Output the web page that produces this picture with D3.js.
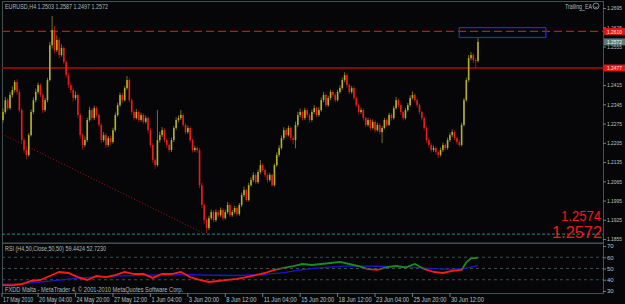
<!DOCTYPE html>
<html>

<head>
  <meta charset="UTF-8">
  <title>EURUSD,H4</title>
  <style>
    html, body { margin: 0; padding: 0; background: #060608; }
    svg { display: block; }
    text { font-family: "Liberation Sans", Arial, sans-serif; }
  </style>
</head>

<body>
  <div id="chart"></div>
  <script src="https://d3js.org/d3.v7.min.js"></script>
  <script>

    /// data (EURUSD H4, one entry per bar, first bar = 17 May 2010 16:00)

    var opens = [1.2288,1.2317,1.2360,1.2331,1.2379,1.2397,1.2426,1.2390,1.2324,1.2215,
      1.2179,1.2161,1.2233,1.2317,1.2360,1.2390,1.2415,1.2379,1.2324,1.2360,
      1.2433,1.2560,1.2615,1.2542,1.2579,1.2524,1.2550,1.2499,1.2451,1.2415,
      1.2397,1.2368,1.2379,1.2306,1.2233,1.2197,1.2215,1.2288,1.2324,1.2295,
      1.2331,1.2306,1.2270,1.2215,1.2233,1.2197,1.2222,1.2208,1.2251,1.2306,
      1.2342,1.2379,1.2360,1.2404,1.2433,1.2360,1.2317,1.2295,1.2317,1.2288,
      1.2306,1.2281,1.2295,1.2251,1.2197,1.2142,1.2124,1.2215,1.2233,1.2251,
      1.2215,1.2197,1.2179,1.2215,1.2259,1.2288,1.2295,1.2306,1.2270,1.2244,
      1.2259,1.2215,1.2179,1.2186,1.2179,1.2051,1.1979,1.1924,1.1895,1.1931,
      1.1953,1.1924,1.1953,1.1942,1.1961,1.1931,1.1953,1.1979,1.1942,1.1953,
      1.1968,1.1946,1.1979,1.2015,1.2033,1.1997,1.2051,1.2070,1.2088,1.2062,
      1.2099,1.2124,1.2106,1.2088,1.2070,1.2088,1.2051,1.2124,1.2161,1.2186,
      1.2222,1.2251,1.2233,1.2259,1.2222,1.2215,1.2270,1.2306,1.2317,1.2295,
      1.2324,1.2306,1.2288,1.2317,1.2331,1.2306,1.2324,1.2360,1.2379,1.2342,
      1.2368,1.2390,1.2379,1.2360,1.2390,1.2404,1.2433,1.2451,1.2415,1.2390,
      1.2404,1.2368,1.2342,1.2317,1.2324,1.2295,1.2270,1.2288,1.2259,1.2281,
      1.2251,1.2270,1.2244,1.2259,1.2288,1.2270,1.2306,1.2295,1.2331,1.2360,
      1.2342,1.2317,1.2295,1.2324,1.2342,1.2368,1.2379,1.2360,1.2342,1.2317,
      1.2295,1.2259,1.2215,1.2197,1.2179,1.2186,1.2171,1.2161,1.2179,1.2197,
      1.2186,1.2215,1.2233,1.2244,1.2222,1.2208,1.2197,1.2270,1.2360,1.2433,
      1.2513,1.2524,1.2506,1.2503];

    var highs = [1.2330,1.2372,1.2368,1.2390,1.2410,1.2433,1.2436,1.2398,1.2331,1.2222,
      1.2190,1.2240,1.2326,1.2370,1.2402,1.2424,1.2422,1.2386,1.2368,1.2441,
      1.2572,1.2666,1.2630,1.2596,1.2588,1.2563,1.2556,1.2506,1.2460,1.2426,
      1.2405,1.2392,1.2385,1.2314,1.2240,1.2228,1.2296,1.2336,1.2330,1.2340,
      1.2338,1.2312,1.2278,1.2244,1.2240,1.2230,1.2231,1.2260,1.2315,1.2351,
      1.2388,1.2386,1.2412,1.2448,1.2440,1.2366,1.2325,1.2328,1.2322,1.2315,
      1.2312,1.2304,1.2300,1.2258,1.2204,1.2150,1.2324,1.2245,1.2262,1.2258,
      1.2222,1.2204,1.2224,1.2266,1.2298,1.2305,1.2324,1.2312,1.2276,1.2268,
      1.2264,1.2220,1.2195,1.2192,1.2186,1.2060,1.1986,1.1932,1.1940,1.1962,
      1.1960,1.1963,1.1960,1.1970,1.1968,1.1962,1.1990,1.1985,1.1961,1.1976,
      1.1974,1.1986,1.2024,1.2046,1.2038,1.2060,1.2080,1.2098,1.2094,1.2108,
      1.2142,1.2130,1.2112,1.2094,1.2096,1.2092,1.2130,1.2170,1.2196,1.2232,
      1.2262,1.2258,1.2268,1.2264,1.2230,1.2282,1.2318,1.2330,1.2322,1.2333,
      1.2330,1.2312,1.2326,1.2342,1.2336,1.2334,1.2370,1.2390,1.2384,1.2376,
      1.2398,1.2396,1.2385,1.2398,1.2414,1.2442,1.2462,1.2458,1.2420,1.2412,
      1.2410,1.2374,1.2348,1.2333,1.2330,1.2300,1.2296,1.2294,1.2290,1.2286,
      1.2278,1.2276,1.2266,1.2296,1.2294,1.2314,1.2312,1.2340,1.2372,1.2366,
      1.2348,1.2322,1.2332,1.2350,1.2378,1.2392,1.2385,1.2366,1.2348,1.2322,
      1.2300,1.2264,1.2222,1.2204,1.2195,1.2192,1.2177,1.2188,1.2206,1.2203,
      1.2224,1.2242,1.2254,1.2250,1.2228,1.2214,1.2278,1.2368,1.2442,1.2524,
      1.2535,1.2531,1.2512,1.2587];

    var lows = [1.2279,1.2310,1.2322,1.2325,1.2370,1.2388,1.2380,1.2315,1.2205,1.2168,
      1.2145,1.2155,1.2228,1.2310,1.2352,1.2383,1.2370,1.2312,1.2318,1.2352,
      1.2428,1.2548,1.2530,1.2535,1.2512,1.2518,1.2490,1.2440,1.2404,1.2386,
      1.2355,1.2360,1.2295,1.2220,1.2180,1.2190,1.2208,1.2281,1.2286,1.2288,
      1.2298,1.2262,1.2204,1.2208,1.2186,1.2190,1.2196,1.2202,1.2245,1.2300,
      1.2335,1.2350,1.2355,1.2398,1.2352,1.2308,1.2286,1.2290,1.2280,1.2282,
      1.2274,1.2275,1.2240,1.2188,1.2132,1.2110,1.2118,1.2206,1.2226,1.2206,
      1.2188,1.2170,1.2172,1.2208,1.2252,1.2280,1.2288,1.2262,1.2236,1.2238,
      1.2206,1.2170,1.2172,1.2168,1.2040,1.1968,1.1910,1.1877,1.1888,1.1925,
      1.1916,1.1918,1.1934,1.1936,1.1922,1.1926,1.1946,1.1935,1.1936,1.1947,
      1.1938,1.1940,1.1972,1.2008,1.1990,1.1992,1.2045,1.2062,1.2055,1.2056,
      1.2092,1.2098,1.2080,1.2060,1.2064,1.2045,1.2046,1.2118,1.2154,1.2180,
      1.2215,1.2225,1.2228,1.2214,1.2200,1.2185,1.2262,1.2298,1.2286,1.2288,
      1.2298,1.2278,1.2282,1.2310,1.2298,1.2300,1.2318,1.2352,1.2335,1.2336,
      1.2360,1.2372,1.2352,1.2355,1.2384,1.2398,1.2425,1.2406,1.2382,1.2384,
      1.2360,1.2335,1.2308,1.2310,1.2286,1.2262,1.2264,1.2250,1.2254,1.2242,
      1.2246,1.2236,1.2204,1.2254,1.2262,1.2266,1.2286,1.2290,1.2326,1.2334,
      1.2308,1.2286,1.2290,1.2318,1.2336,1.2362,1.2352,1.2334,1.2308,1.2286,
      1.2250,1.2205,1.2188,1.2170,1.2172,1.2162,1.2150,1.2155,1.2172,1.2178,
      1.2180,1.2208,1.2226,1.2214,1.2200,1.2190,1.2192,1.2265,1.2355,1.2426,
      1.2505,1.2495,1.2477,1.2497];

    var closes = [1.2317,1.2360,1.2331,1.2379,1.2397,1.2426,1.2390,1.2324,1.2215,1.2179,
      1.2161,1.2233,1.2317,1.2360,1.2390,1.2415,1.2379,1.2324,1.2360,1.2433,
      1.2560,1.2615,1.2542,1.2579,1.2524,1.2550,1.2499,1.2451,1.2415,1.2397,
      1.2368,1.2379,1.2306,1.2233,1.2197,1.2215,1.2288,1.2324,1.2295,1.2331,
      1.2306,1.2270,1.2215,1.2233,1.2197,1.2222,1.2208,1.2251,1.2306,1.2342,
      1.2379,1.2360,1.2404,1.2433,1.2360,1.2317,1.2295,1.2317,1.2288,1.2306,
      1.2281,1.2295,1.2251,1.2197,1.2142,1.2124,1.2215,1.2233,1.2251,1.2215,
      1.2197,1.2179,1.2215,1.2259,1.2288,1.2295,1.2306,1.2270,1.2244,1.2259,
      1.2215,1.2179,1.2186,1.2179,1.2051,1.1979,1.1924,1.1895,1.1931,1.1953,
      1.1924,1.1953,1.1942,1.1961,1.1931,1.1953,1.1979,1.1942,1.1953,1.1968,
      1.1946,1.1979,1.2015,1.2033,1.1997,1.2051,1.2070,1.2088,1.2062,1.2099,
      1.2124,1.2106,1.2088,1.2070,1.2088,1.2051,1.2124,1.2161,1.2186,1.2222,
      1.2251,1.2233,1.2259,1.2222,1.2215,1.2270,1.2306,1.2317,1.2295,1.2324,
      1.2306,1.2288,1.2317,1.2331,1.2306,1.2324,1.2360,1.2379,1.2342,1.2368,
      1.2390,1.2379,1.2360,1.2390,1.2404,1.2433,1.2451,1.2415,1.2390,1.2404,
      1.2368,1.2342,1.2317,1.2324,1.2295,1.2270,1.2288,1.2259,1.2281,1.2251,
      1.2270,1.2244,1.2259,1.2288,1.2270,1.2306,1.2295,1.2331,1.2360,1.2342,
      1.2317,1.2295,1.2324,1.2342,1.2368,1.2379,1.2360,1.2342,1.2317,1.2295,
      1.2259,1.2215,1.2197,1.2179,1.2186,1.2171,1.2161,1.2179,1.2197,1.2186,
      1.2215,1.2233,1.2244,1.2222,1.2208,1.2197,1.2270,1.2360,1.2433,1.2513,
      1.2524,1.2506,1.2503,1.2572];

    // RSI and its moving average, sampled at these bars
    var rsiBars = [0,4,8,12,16,20,24,28,32,36,40,44,48,52,56,60,64,68,72,76,80,84,88,92,96,
      100,104,108,112,116,120,124,128,132,136,140,144,148,152,156,160,164,168,172,176,180,
      184,188,192,196,198,200,203];
    var rsiValues = [35.3,35.0,36.2,38.9,39.8,43.3,46.9,46.0,42.4,39.8,43.3,42.4,44.2,46.9,45.1,
      45.1,41.6,45.1,45.1,46.9,42.4,39.8,38.0,38.9,39.8,40.7,42.4,44.2,46.0,48.7,50.6,52.2,
      54.0,53.1,54.0,54.9,55.8,54.0,52.2,49.4,48.7,51.3,52.2,50.9,54.0,49.6,46.9,46.0,47.8,
      48.7,55.5,59.0,59.44];
    var maBars = [0,10,20,30,40,50,60,70,80,90,100,110,120,128,136,148,160,172,184,192,198,203];
    var maValues = [36.0,36.8,38.8,41.0,42.6,43.4,44.0,44.3,44.5,44.0,43.8,44.6,46.4,49.0,50.8,
      52.3,52.0,51.4,49.8,49.3,50.4,52.72];

    // 1.2485 sits under the 1.2477 tag, so it is not shown
    var priceTicks = [1.2695,1.2625,1.2555,1.2415,1.2345,1.2275,1.2205,1.2135,1.2065,1.1995,1.1925,1.1855];
    var rsiTicks = [70, 60, 50, 40, 30];
    var rsiGrid = [60, 50, 40];
    var timeLabels = ["17 May 2010","20 May 04:00","24 May 20:00","27 May 12:00","1 Jun 04:00","3 Jun 20:00",
      "8 Jun 12:00","11 Jun 04:00","15 Jun 20:00","18 Jun 12:00","23 Jun 04:00","25 Jun 20:00","30 Jun 12:00"];
    var timeBars = [0,15,31,47,63,79,95,111,127,143,159,175,191];

    // chart objects
    var resistLevel = 1.2610, supportLevel = 1.2477, bottomLevel = 1.1873, bidPrice = 1.2572;
    var trendStart = {bar: -0.4, price: 1.2237}, trendEnd = {bar: 85.5, price: 1.1877};
    var boxObj = {bar0: 195, bar1: 232, p0: 1.2624, p1: 1.2588};
    var bigLabels = ["1.2574", "1.2572"];

    /// layout

    var W = 625, H = 304;
    var left = 2, right = 603;
    var mainTop = 2, mainBottom = 243, rsiBottom = 293;

    var svg = d3.select("#chart").append("svg").attr("width", W).attr("height", H);
    svg.append("rect").attr("width", W).attr("height", H).attr("fill", "#060608");

    var x = d3.scaleLinear().domain([0, 203]).range([3, 478]);
    var y = d3.scaleLinear().domain([1.1848, 1.2717]).range([241, 2]);
    var ry = d3.scaleLinear().domain([30, 70]).range([291, 246]);

    var defs = svg.append("defs");
    defs.append("clipPath").attr("id", "mainClip").append("rect")
      .attr("x", left).attr("y", mainTop).attr("width", right - left).attr("height", mainBottom - mainTop);
    defs.append("clipPath").attr("id", "above").append("rect")
      .attr("x", left).attr("y", mainBottom).attr("width", right - left).attr("height", ry(50) - mainBottom);
    defs.append("clipPath").attr("id", "below").append("rect")
      .attr("x", left).attr("y", ry(50)).attr("width", right - left).attr("height", rsiBottom - ry(50));

    // frames
    var frame = "#3e5252";
    svg.append("rect").attr("x", left + 0.5).attr("y", mainTop - 0.5)
      .attr("width", right - left).attr("height", mainBottom - mainTop + 0.5)
      .attr("fill", "none").attr("stroke", frame);
    svg.append("rect").attr("x", left + 0.5).attr("y", mainBottom + 0.5)
      .attr("width", right - left).attr("height", rsiBottom - mainBottom)
      .attr("fill", "none").attr("stroke", frame);

    var main = svg.append("g").attr("clip-path", "url(#mainClip)");

    // horizontal lines
    main.append("line").attr("x1", left).attr("x2", right)
      .attr("y1", y(bottomLevel)).attr("y2", y(bottomLevel))
      .attr("stroke", "#1f8c8c").attr("stroke-dasharray", "3,2");
    main.append("line").attr("x1", left).attr("x2", right)
      .attr("y1", y(resistLevel)).attr("y2", y(resistLevel))
      .attr("stroke", "#c81414").attr("stroke-width", 1.3).attr("stroke-dasharray", "8,4");
    main.append("line").attr("x1", left).attr("x2", right)
      .attr("y1", y(supportLevel)).attr("y2", y(supportLevel))
      .attr("stroke", "#820a0a").attr("stroke-width", 2);

    // trend line
    main.append("line")
      .attr("x1", x(trendStart.bar)).attr("y1", y(trendStart.price))
      .attr("x2", x(trendEnd.bar)).attr("y2", y(trendEnd.price))
      .attr("stroke", "#b01010").attr("stroke-dasharray", "1,2");

    // candles
    var bars = main.append("g").selectAll("g")
      .data(closes.map(function(c, i) { return {i: i, o: opens[i], h: highs[i], l: lows[i], c: c}; }))
      .enter().append("g");

    bars.append("line")
      .attr("x1", function(d) { return x(d.i); })
      .attr("x2", function(d) { return x(d.i); })
      .attr("y1", function(d) { return y(d.h); })
      .attr("y2", function(d) { return y(d.l); })
      .attr("stroke", function(d) { return d.c >= d.o ? "#7f7f1e" : "#a01616"; })
      .attr("stroke-width", 0.9);

    bars.append("rect")
      .attr("x", function(d) { return x(d.i) - 0.8; })
      .attr("width", 1.6)
      .attr("y", function(d) { return y(Math.max(d.o, d.c)); })
      .attr("height", function(d) { return Math.max(1, Math.abs(y(d.o) - y(d.c))); })
      .attr("fill", function(d) { return d.c >= d.o ? "#b0b02a" : "#ec1c1c"; });

    // blue rectangle object
    main.append("rect")
      .attr("x", x(boxObj.bar0)).attr("y", y(boxObj.p0))
      .attr("width", x(boxObj.bar1) - x(boxObj.bar0)).attr("height", y(boxObj.p1) - y(boxObj.p0))
      .attr("fill", "none").attr("stroke", "#2626e0").attr("stroke-width", 1.2);

    // header texts
    svg.append("text").attr("x", 5).attr("y", 8.5)
      .attr("font-size", 7).attr("fill", "#a9baba")
      .attr("textLength", 103).attr("lengthAdjust", "spacingAndGlyphs")
      .text("EURUSD,H4  1.2503 1.2587 1.2497 1.2572");

    svg.append("text").attr("x", 565).attr("y", 9)
      .attr("font-size", 7).attr("fill", "#a9baba")
      .attr("textLength", 27).attr("lengthAdjust", "spacingAndGlyphs")
      .text("Trailing_EA");
    var smile = svg.append("g").attr("transform", "translate(596,6)")
      .attr("fill", "none").attr("stroke", "#a9baba").attr("stroke-width", 0.7);
    smile.append("circle").attr("r", 3);
    smile.append("path").attr("d", "M-1.5,0.8 Q0,2.2 1.5,0.8");

    // big red price texts
    svg.append("text").attr("x", 601).attr("y", 221).attr("text-anchor", "end")
      .attr("font-size", 14.5).attr("fill", "#f01818")
      .attr("textLength", 40).attr("lengthAdjust", "spacingAndGlyphs")
      .text(bigLabels[0]);
    svg.append("text").attr("x", 602).attr("y", 238).attr("text-anchor", "end")
      .attr("font-size", 17).attr("fill", "#f01818")
      .attr("textLength", 50).attr("lengthAdjust", "spacingAndGlyphs")
      .text(bigLabels[1]);

    // price axis
    var priceAxis = svg.append("g").attr("transform", "translate(" + right + ",0)")
      .call(d3.axisRight(y).tickValues(priceTicks).tickSize(3).tickPadding(1)
        .tickFormat(d3.format(".4f")));
    priceAxis.select(".domain").remove();
    priceAxis.selectAll("line").attr("stroke", "#6d8080");
    priceAxis.selectAll("text").attr("fill", "#b8c4c4").attr("font-size", 6)
      .attr("font-family", "Liberation Sans, Arial, sans-serif")
      .attr("textLength", 15).attr("lengthAdjust", "spacingAndGlyphs");

    // price tags
    var tags = [
      {p: resistLevel, bg: "#e41414", fg: "#ffe8e8"},
      {p: bidPrice, bg: "#587a7a", fg: "#f0ffff"},
      {p: supportLevel, bg: "#e41414", fg: "#ffe8e8"}
    ];
    var tag = svg.append("g").selectAll("g").data(tags).enter().append("g");
    tag.append("rect")
      .attr("x", right + 1).attr("width", W - right - 1)
      .attr("y", function(d) { return y(d.p) - 3.5; }).attr("height", 7)
      .attr("fill", function(d) { return d.bg; });
    tag.append("text")
      .attr("x", right + 4).attr("y", function(d) { return y(d.p) + 2.3; })
      .attr("font-size", 6).attr("fill", function(d) { return d.fg; })
      .attr("textLength", 15).attr("lengthAdjust", "spacingAndGlyphs")
      .text(function(d) { return d.p.toFixed(4); });

    // RSI panel
    var rsi = svg.append("g");
    rsi.selectAll(".grid").data(rsiGrid).enter().append("line")
      .attr("x1", left).attr("x2", right)
      .attr("y1", function(d) { return ry(d); }).attr("y2", function(d) { return ry(d); })
      .attr("stroke", "#3a5050").attr("stroke-dasharray", "3,3");

    var rsiPts = rsiBars.map(function(b, i) { return [x(b), ry(rsiValues[i])]; });
    var maPts = maBars.map(function(b, i) { return [x(b), ry(maValues[i])]; });
    var line = d3.line();

    rsi.append("path").attr("d", line(maPts))
      .attr("fill", "none").attr("stroke", "#1818cc").attr("stroke-width", 1.3);
    rsi.append("path").attr("d", line(rsiPts)).attr("clip-path", "url(#below)")
      .attr("fill", "none").attr("stroke", "#ff1a1a").attr("stroke-width", 1.8);
    rsi.append("path").attr("d", line(rsiPts)).attr("clip-path", "url(#above)")
      .attr("fill", "none").attr("stroke", "#1e8a1e").attr("stroke-width", 1.8);

    svg.append("text").attr("x", 5).attr("y", 251)
      .attr("font-size", 6.5).attr("fill", "#a9baba")
      .attr("textLength", 101).attr("lengthAdjust", "spacingAndGlyphs")
      .text("RSI (H4,50,Close,50,50) 59.4424 52.7230");
    svg.append("text").attr("x", 5).attr("y", 292)
      .attr("font-size", 6.5).attr("fill", "#a9baba")
      .attr("textLength", 178).attr("lengthAdjust", "spacingAndGlyphs")
      .text("FXDD Malta - MetaTrader 4, \u00a9 2001-2010 MetaQuotes Software Corp.");

    var rsiAxis = svg.append("g").attr("transform", "translate(" + right + ",0)")
      .call(d3.axisRight(ry).tickValues(rsiTicks).tickSize(3).tickPadding(1));
    rsiAxis.select(".domain").remove();
    rsiAxis.selectAll("line").attr("stroke", "#6d8080");
    rsiAxis.selectAll("text").attr("fill", "#b8c4c4").attr("font-size", 6)
      .attr("font-family", "Liberation Sans, Arial, sans-serif");

    // time axis
    var tAxis = svg.append("g").selectAll("g").data(timeLabels).enter().append("g")
      .attr("transform", function(d, i) { return "translate(" + (x(timeBars[i]) - (i === 0 ? 1 : 0)) + "," + rsiBottom + ")"; });
    tAxis.append("line").attr("y1", 0).attr("y2", 4).attr("stroke", "#6d8080");
    tAxis.append("text").attr("x", 1).attr("y", 9)
      .attr("font-size", 6.5).attr("fill", "#b8c4c4")
      .attr("textLength", function(d) { return d.length * 2.75; })
      .attr("lengthAdjust", "spacingAndGlyphs")
      .text(function(d) { return d; });

  </script>
</body>

</html>
